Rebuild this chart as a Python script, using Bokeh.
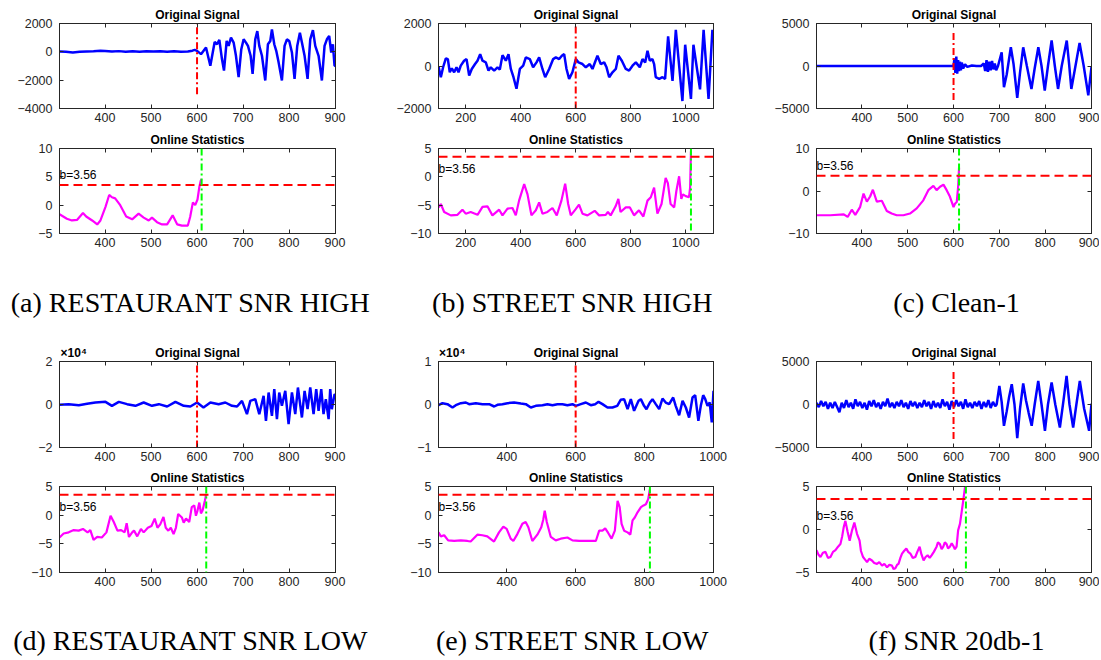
from bokeh.plotting import figure
from bokeh.layouts import row, column
from bokeh.models import Range1d, FixedTicker, LinearAxis, Span, Label
from bokeh.embed import file_html
from bokeh.resources import INLINE

# ---------------- shared values ----------------
THRESH = 3.56
THRESH_TEXT = "b=3.56"
CHANGE_X = 600
EXP_TEXT = "\u00d710\u2074"

# ---------------- panel (a) ----------------
A_CAPTION = "(a) RESTAURANT SNR HIGH"
A_XRANGE = (301, 901)
A_XTICKS = [400, 500, 600, 700, 800, 900]
A_SIG_YRANGE = (-4000, 2000)
A_SIG_YTICKS = [-4000, -2000, 0, 2000]
A_SIG_X = [301, 315, 330, 345, 360, 375, 390, 400, 415, 430,
           445, 460, 475, 490, 505, 520, 535, 550, 565, 580,
           590, 595, 600,
           608.6, 619.5, 628.9, 638.3, 643.4, 648.5, 654.2, 658.6, 664.4, 668.7,
           673.8, 679.6, 684.6, 690.4, 696.2, 701.3, 706.4, 710.7, 716.5, 720.8,
           726.6, 731, 735.3, 741.1, 748.3, 754.1, 759.2, 762.8, 767.9, 772.2,
           777.3, 784.5, 790.3, 795.4, 800.5, 806.3, 812, 817.8, 823.6, 828,
           833.8, 840.3, 846.1, 851.9, 857, 864.2, 871.4, 877.2, 882.3, 887.3,
           891.7, 895.3, 898.9, 901]
A_SIG_Y = [20, 0, -50, 0, 20, 40, 80, 60, 20, 50,
           10, 40, 0, 40, 20, 40, 0, 40, 0, 20,
           80, 140, 70,
           -163, 302, -977, 698, 535, 837, -512, -1326, 768, 419,
           1000, 651, -279, -1791, 186, 884, 651, 419, -279, -1558,
           884, 1465, 419, -279, -2024, 535, 768, 1582, 535, 70,
           -744, -2024, 419, 884, 768, -47, -1907, 419, 1349, 651,
           -279, -1907, 884, 1535, 419, -279, -2024, 419, 884, 1116,
           -47, 535, -977, -1000]
A_CHANGE_Y = (-3000, 2000)
A_STAT_YRANGE = (-5, 10)
A_STAT_YTICKS = [-5, 0, 5, 10]
A_STAT_X = [301, 317, 328, 339, 352, 359, 372, 383, 390, 401,
            409, 415, 422, 433, 446, 459, 473, 484, 495, 502,
            513, 524, 535, 547, 557, 567, 580, 585, 591, 596,
            601, 605, 608, 610]
A_STAT_Y = [-1.6, -2.4, -2.7, -2.6, -1.4, -2.0, -2.7, -3.4, -2.7, -0.3,
            1.8, 1.4, 1.2, 0.0, -2.0, -2.5, -1.5, -2.2, -2.7, -2.2,
            -3.0, -3.4, -3.4, -1.8, -3.4, -3.6, -3.6, -2.1, 0.5, 0.0,
            1.0, 3.2, 4.3, 4.6]
A_DETECT_X = 610
A_LABEL_Y = 5.4

# ---------------- panel (b) ----------------
B_CAPTION = "(b) STREET SNR HIGH"
B_XRANGE = (101, 1101)
B_XTICKS = [200, 400, 600, 800, 1000]
B_SIG_YRANGE = (-2000, 2000)
B_SIG_YTICKS = [-2000, 0, 2000]
B_SIG_X = [101, 109.5, 118, 127.7, 135, 142, 149.5, 158, 166.5, 173.7,
           182, 194, 203, 212.5, 222, 234, 242.8, 252.5, 261, 273,
           282.8, 291, 303.4, 315.5, 324, 333.7, 345.8, 355.5, 364, 373.7,
           384.6, 396.8, 409, 418.6, 433, 445, 457.4, 467, 479, 488.9,
           503.4, 518, 527.7, 539.8, 549.5, 558, 566.5, 576, 588, 600.4,
           610, 624.6, 636.7, 651, 661, 670.7, 679, 691, 703.4, 712,
           721.6, 733.7, 745.8, 755.5, 767.7, 782, 794, 806.5, 818.6, 833,
           842.8, 852.5, 861, 869.5, 879, 885, 891, 903.4, 915.5, 925,
           936, 952, 964, 988, 998, 1019, 1028, 1052, 1065, 1083,
           1097, 1101]
B_SIG_Y = [-15, -527, -47, 357, 326, -295, -109, -295, -62, -295,
           15, 248, 326, -450, -140, 93, 248, 558, 248, 170,
           -217, -62, -217, -62, -170, 512, 248, 558, -140, -527,
           -1070, -140, 15, 403, 326, -62, 170, 403, -140, -527,
           -140, 326, 403, 326, 480, 558, -140, -605, -295, 326,
           170, 93, -62, 93, -140, 201, 480, 93, 170, -62,
           -527, -295, -140, 480, 248, -140, -217, 15, 170, -62,
           326, 170, 713, 248, 326, 93, -527, -605, -527, -605,
           1400, -700, 1700, -1650, 1000, -1550, 1000, -1100, 1700, -1550,
           1700, 1100]
B_CHANGE_Y = (-2000, 2000)
B_STAT_YRANGE = (-10, 5)
B_STAT_YTICKS = [-10, -5, 0, 5]
B_STAT_X = [101, 109.5, 121.6, 145.8, 170, 188, 200, 218, 243, 261,
            279, 297, 321.6, 333.7, 351.9, 370, 382, 394, 412.6, 424.7,
            439, 455, 467, 479, 497, 515.4, 531, 548, 561.6, 572.5,
            582, 600, 612, 624.6, 642.7, 669, 685, 709, 717, 727,
            745, 755, 763, 782, 797, 812, 830, 846, 861, 873,
            885, 897, 912, 927, 935, 945, 958, 966, 976, 984,
            990, 1000, 1012, 1016, 1019]
B_STAT_Y = [-5.4, -4.8, -6.2, -6.8, -6.7, -5.8, -6.5, -6.2, -6.7, -5.3,
            -5.2, -6.8, -5.8, -6.8, -5.6, -5.5, -6.8, -4.2, -1.3, -3.1,
            -6.8, -5.9, -4.5, -6.5, -6.2, -5.5, -6.8, -4.2, -1.2, -4.8,
            -6.8, -5.7, -4.9, -6.5, -6.8, -6.0, -6.8, -6.7, -6.2, -6.8,
            -5.2, -3.9, -6.2, -5.4, -5.4, -6.8, -5.9, -7.0, -4.2, -3.6,
            -1.9, -6.5, -4.8, -0.2, -1.1, -4.8, -5.4, -2.5, 0.1, -3.9,
            -3.1, -3.4, -3.6, -1.9, 4.5]
B_DETECT_X = 1019
B_LABEL_Y = 1.3

# ---------------- panel (c) ----------------
C_CAPTION = "(c) Clean-1"
C_XRANGE = (301, 901)
C_XTICKS = [400, 500, 600, 700, 800, 900]
C_SIG_YRANGE = (-5000, 5000)
C_SIG_YTICKS = [-5000, 0, 5000]
C_SIG_X = [301, 600, 602, 604, 606, 608, 610, 612, 614, 616,
           618, 621, 625, 630, 640, 650, 660, 666, 669, 672,
           675, 678, 681, 684, 687, 690, 693, 697, 705, 710,
           716, 725, 731, 739, 745, 752, 760, 770, 777, 785,
           792, 799, 806, 814, 821, 828, 836, 847, 852, 857,
           866, 875, 884, 894, 901]
C_SIG_Y = [0, 0, 900, -800, 1100, -900, 700, -600, 500, -500,
           400, -300, 200, -100, 50, 0, 0, 300, -600, 700,
           -700, 500, -500, 600, -400, 300, -500, 0, 1600, -2500,
           -1000, 2200, 200, -3750, -800, 2200, 0, -2700, -300, 2200,
           0, -2900, 0, 3000, 0, -2700, 0, 3000, 300, -2700,
           0, 2700, 0, -3450, -100]
C_CHANGE_Y = (-4000, 4000)
C_STAT_YRANGE = (-10, 10)
C_STAT_YTICKS = [-10, 0, 10]
C_STAT_X = [301, 331, 360.5, 369, 378, 385.6, 396, 403.6, 410.9, 418,
            424, 432.6, 443.5, 454.4, 465, 476, 490.6, 505, 519.6, 534,
            545, 556, 563, 570.6, 578, 585, 592, 600, 603, 607,
            610, 611.5, 612]
C_STAT_Y = [-5.7, -5.7, -5.5, -6.1, -4.4, -5.6, -3.8, -0.6, -2.5, -1.3,
            0.3, -2.5, -2.3, -4.7, -5.3, -5.7, -5.7, -5.3, -4.1, -2.2,
            0.2, 1.2, 0.2, 1.0, 1.5, 0.2, -1.3, -3.8, -3.0, -2.6,
            1.0, 4.1, 5.5]
C_DETECT_X = 612
C_LABEL_Y = 5.9

# ---------------- panel (d) ----------------
D_CAPTION = "(d) RESTAURANT SNR LOW"
D_XRANGE = (301, 901)
D_XTICKS = [400, 500, 600, 700, 800, 900]
D_SIG_SCALE = 1e4
D_EXP_X = 332
D_SIG_YRANGE = (-2, 2)
D_SIG_YTICKS = [-2, 0, 2]
D_SIG_X = [301, 321, 343, 361, 379, 401, 415, 430, 448, 466,
           484, 502, 517, 535, 553, 571, 585.5, 600, 614, 629,
           647, 661.5, 676, 687, 697.7, 708.5, 715.8, 726.6, 735.3, 744.7,
           749.8, 755.6, 762.8, 767.9, 773.7, 778.7, 784.5, 791.8, 799, 806.3,
           813.5, 819.3, 828, 833.8, 840.3, 846.1, 853.3, 859.1, 864.2, 870,
           875, 880, 886, 889.5, 893, 899, 901]
D_SIG_Y = [-155, 155, -310, 310, 930, 1240, -620, 1240, 155, -620,
           930, -620, 155, -930, 1240, -620, -930, 930, -1395, 930,
           155, 930, -620, -930, 1705, -4495, 1705, 2480, -4495, 4030,
           -7595, 5580, -5270, 7130, -6820, 5580, -620, 6355, -9145, 5580,
           -4495, 7905, -6045, 6355, -2170, 7905, -4495, 7130, -2945, 7130,
           -4495, 2480, -6820, 7130, -2170, 4805, 4500]
D_CHANGE_Y = (-2, 2)
D_STAT_YRANGE = (-10, 5)
D_STAT_YTICKS = [-10, -5, 0, 5]
D_STAT_X = [301, 310, 321, 332, 342.6, 352, 362, 368, 375, 383,
            393, 403, 412, 419, 427, 435, 442.6, 447, 452, 459,
            463, 470, 478, 484, 493, 501, 508, 514, 520, 527,
            532, 537.6, 543, 549, 554, 559, 567, 571, 576, 583,
            588.5, 594, 597.6, 601, 605, 608.5, 612, 617, 620]
D_STAT_Y = [-3.9, -3.2, -3.0, -2.6, -2.7, -2.4, -3.0, -2.6, -4.3, -3.8,
            -3.9, -3.0, -0.1, -1.2, -2.7, -2.6, -3.0, -1.4, -3.8, -3.0,
            -2.7, -3.7, -2.4, -3.0, -2.2, -1.9, -0.6, -2.2, -1.6, -0.3,
            -2.2, -2.7, -2.2, -3.3, -2.2, 0.2, -0.4, -1.3, -0.6, -1.2,
            1.4, 1.7, -0.1, 0.8, 2.2, 0.3, 0.8, 2.5, 3.7]
D_DETECT_X = 620
D_LABEL_Y = 1.5

# ---------------- panel (e) ----------------
E_CAPTION = "(e) STREET SNR LOW"
E_XRANGE = (201, 1001)
E_XTICKS = [400, 600, 800, 1000]
E_SIG_SCALE = 1e4
E_EXP_X = 241
E_SIG_YRANGE = (-1, 1)
E_SIG_YTICKS = [-1, 0, 1]
E_SIG_X = [201, 212.6, 227, 241.7, 251.4, 266, 280.5, 290, 309.6, 329,
           348.4, 363, 372.6, 387, 401.7, 421, 440.5, 455, 469.6, 484,
           503.5, 518, 532.6, 547, 561.7, 576, 590.8, 600.5, 615, 629.6,
           644, 656.7, 666.5, 678, 692.6, 707, 721,
           731, 741, 751, 760.5, 770, 783, 789.6, 799, 806, 816,
           823.5, 833, 843, 852.6, 862, 872, 883.7, 891, 901, 911,
           920.5, 930, 940, 947.7, 957, 964, 971, 977, 983.5, 990,
           996, 1001]
E_SIG_Y = [-155, 310, 78, -698, -155, 310, 465, 78, 310, 78,
           78, -465, -78, 78, 310, 465, 232, 78, -698, -310,
           -155, 78, -155, 78, 78, -155, 78, -310, 78, 465,
           -155, 78, 620, 78, -698, -698, -310,
           1085, 1240, -1085, 1240, -1472, 852, 1240, -310, -1085, 465,
           1240, 78, -1085, 1395, 465, 78, 1628, -310, -2500, 852,
           -698, -3022, 1628, 2170, -3798, -310, 2170, 1240, -310, 465,
           -4185, 3178]
E_CHANGE_Y = (-1, 1)
E_STAT_YRANGE = (-10, 5)
E_STAT_YTICKS = [-10, -5, 0, 5]
E_STAT_X = [201, 207.8, 217.5, 229, 246.5, 266, 285, 294.6, 314, 328.6,
            343, 362.5, 377, 389.6, 399.3, 411, 418.7, 430.4, 445, 454.6,
            462.4, 474, 488.6, 500, 506, 510, 516, 527.7, 542, 556.6,
            576, 590.8, 610, 634.5, 658.7, 668.5, 678, 686, 694.6, 704.4,
            714, 722, 728, 733.6, 741, 751, 759, 765.5, 772, 780,
            790, 797.5, 804.4, 811, 815, 816]
E_STAT_Y = [-3.0, -3.7, -3.5, -4.4, -4.5, -4.4, -4.5, -4.6, -3.4, -3.5,
            -3.7, -4.6, -3.0, -2.0, -2.4, -4.1, -4.5, -3.3, -1.5, -1.2,
            -2.1, -4.5, -3.4, -2.1, -0.7, 0.8, -1.2, -3.8, -4.4, -4.1,
            -3.9, -4.4, -4.5, -4.5, -4.5, -2.7, -2.7, -2.3, -3.1, -4.1,
            -2.7, 2.5, 1.4, -1.5, -2.7, -3.0, -3.4, -0.9, -0.4, 0.5,
            1.4, 1.7, 1.9, 2.8, 4.2, 4.5]
E_DETECT_X = 816
E_LABEL_Y = 1.5

# ---------------- panel (f) ----------------
F_CAPTION = "(f) SNR 20db-1"
F_XRANGE = (301, 901)
F_XTICKS = [400, 500, 600, 700, 800, 900]
F_SIG_YRANGE = (-5000, 5000)
F_SIG_YTICKS = [-5000, 0, 5000]
F_SIG_X = [301, 306, 311, 316, 321, 326, 331, 336, 341, 346,
           351, 356, 361, 366, 371, 376, 381, 386, 391, 396,
           401, 406, 411, 416, 421, 426, 431, 436, 441, 446,
           451, 456, 461, 466, 471, 476, 481, 486, 491, 496,
           501, 506, 511, 516, 521, 526, 531, 536, 541, 546,
           551, 556, 561, 566, 571, 576, 581, 586, 591, 596,
           601, 606, 611, 616, 621, 626, 631, 636, 641, 646,
           651, 656, 661, 666, 671, 676, 681, 686, 691,
           694, 700, 705, 710, 716, 721, 727, 733, 739, 745,
           752, 758, 764, 770.5, 777, 784.8, 792, 799.4, 806, 814,
           822, 832, 840, 846.6, 853, 861, 868, 875.5, 885, 895.8,
           901]
F_SIG_Y = [200, -300, 400, -200, 300, -500, 200, -400, 300, -300,
           -900, 200, -400, 500, -300, 200, -500, 600, -200, 300,
           -400, 200, -600, 400, -200, 500, -300, 200, -500, 300,
           -200, 700, -300, 200, -400, 300, -200, 500, -300, 200,
           -500, 400, -200, 300, -400, 200, -300, 500, -200, 300,
           -500, 400, -300, 200, -400, 600, -200, 300, -600, 400,
           -300, 500, -200, 300, -500, 600, -300, 200, -400, 300,
           -200, 400, -500, 300, -300, 500, -400, 300, -200,
           0, 2170, 300, -2480, -800, 800, 2360, 0, -3915, -500,
           2440, 500, -1000, -2480, 0, 2750, 0, -3060, 0, 2560,
           0, -2670, 500, 3333, 0, -2670, 0, 2750, -500, -3060,
           100]
F_CHANGE_Y = (-4000, 4000)
F_STAT_YRANGE = (-5, 5)
F_STAT_YTICKS = [-5, 0, 5]
F_STAT_X = [301, 305, 309.7, 315, 320.6, 326, 331.5, 337, 342.4, 348,
            353.2, 357, 360.5, 364, 369, 373.4, 378.5, 383.6, 389.4, 395,
            398, 402.6, 407, 411.3, 416, 422, 427, 433, 438, 444,
            449, 455, 460, 465.7, 469, 473, 477, 480, 484, 487.6,
            492, 497, 501, 505.7, 511, 516.6, 521, 526, 530, 534.7,
            539, 543.4, 548, 552, 557, 563, 566, 570.3, 574, 577.6,
            581, 584.8, 588, 592, 596, 599.4, 603, 606.6, 610, 614,
            617.6, 621, 625, 627]
F_STAT_Y = [-2.4, -2.9, -3.2, -2.7, -2.6, -3.3, -3.2, -2.6, -2.4, -2.0,
            -1.7, -0.8, 0.3, 1.0, -0.3, -1.3, -0.1, 0.8, -0.5, -1.3,
            -2.5, -3.2, -3.5, -3.8, -3.4, -3.6, -3.9, -4.0, -3.8, -4.2,
            -4.0, -4.4, -4.1, -4.2, -4.6, -4.5, -4.1, -4.0, -3.3, -2.8,
            -2.5, -2.2, -2.6, -2.8, -3.3, -3.2, -2.6, -2.0, -2.9, -3.6,
            -3.2, -3.0, -3.3, -3.0, -2.6, -2.0, -1.5, -1.7, -2.3, -2.0,
            -1.5, -1.7, -2.2, -2.0, -1.6, -1.9, -2.3, -2.0, -0.1, 0.65,
            2.0, 3.3, 4.9, 5.0]
F_DETECT_X = 627
F_LABEL_Y = 1.6

# ---------------- styling ----------------
BLUE = "#0000FF"
MAGENTA = "#FF00FF"
RED = "#FF0000"
GREEN = "#00FF00"
AXC = "#262626"
SANS = "Liberation Sans"
SERIF = "Liberation Serif"
DASH = "9 5"
DASHDOT = "7 3 2 3"
TICK_FONT = "12.5px"

COL_W = [386, 379, 334]
COL_BL = [59, 52, 51]
COL_BR = [51, 52, 8]
# (height, border_top, border_bottom)
ROW1_TOP = (128, 23, 20)
ROW1_BOT = (127, 20, 22)
ROW2_TOP = (141, 36, 19)
ROW2_BOT = (126, 20, 20)
CAP1_H = 70
CAP2_H = 66
PAGE_W = sum(COL_W)


def base_fig(col, geom, xr, yr, xticks, yticks, title, exp_x=None):
    h, bt, bb = geom
    w, bl, br = COL_W[col], COL_BL[col], COL_BR[col]
    p = figure(width=w, height=h, x_range=Range1d(*xr), y_range=Range1d(*yr),
               output_backend="svg", toolbar_location=None, tools="",
               min_border_left=bl, min_border_right=br,
               min_border_top=bt, min_border_bottom=bb,
               background_fill_color="white", border_fill_color="white")
    p.xgrid.visible = False
    p.ygrid.visible = False
    p.outline_line_color = AXC
    p.outline_line_width = 1
    p.xaxis.ticker = FixedTicker(ticks=xticks)
    p.yaxis.ticker = FixedTicker(ticks=yticks)
    for ax in list(p.xaxis) + list(p.yaxis):
        ax.axis_line_color = AXC
        ax.major_tick_line_color = AXC
        ax.major_tick_in = 4
        ax.major_tick_out = 0
        ax.minor_tick_line_color = None
        ax.major_label_text_font = SANS
        ax.major_label_text_font_size = TICK_FONT
        ax.major_label_text_color = AXC
    p.xaxis.major_label_standoff = 4
    p.yaxis.major_label_standoff = 7
    # box ticks on the top and right sides
    for loc, ticks in (("above", xticks), ("right", yticks)):
        ax = LinearAxis(ticker=FixedTicker(ticks=ticks),
                        major_label_text_font_size="1px",
                        major_label_text_color=None,
                        major_label_standoff=0,
                        major_tick_in=4, major_tick_out=0,
                        minor_tick_line_color=None,
                        axis_line_color=AXC, major_tick_line_color=AXC)
        p.add_layout(ax, loc)
    # panel title (and the x10^4 exponent) on one line above the box
    center = (xr[0] + xr[1]) / 2
    title_ticks = [center]
    overrides = {center: title}
    if exp_x is not None:
        title_ticks = [exp_x, center]
        overrides[exp_x] = EXP_TEXT
    title_ax = LinearAxis(ticker=FixedTicker(ticks=title_ticks),
                          major_label_overrides=overrides,
                          major_label_text_font=SANS,
                          major_label_text_font_style="bold",
                          major_label_text_font_size="12px",
                          major_label_text_color="black",
                          major_label_standoff=2,
                          major_tick_in=0, major_tick_out=0,
                          major_tick_line_color=None,
                          minor_tick_line_color=None,
                          axis_line_color=None)
    p.add_layout(title_ax, "above")
    return p


def sig_fig(col, geom, xr, yr, xticks, yticks, xs, ys, change_y, scale=None, exp_x=None):
    p = base_fig(col, geom, xr, yr, xticks, yticks, "Original Signal", exp_x)
    yv = ys if scale is None else [v / scale for v in ys]
    p.line(xs, yv, line_color=BLUE, line_width=2.5)
    p.line([CHANGE_X, CHANGE_X], list(change_y), line_color=RED,
           line_width=2, line_dash=DASHDOT)
    return p


def stat_fig(col, geom, xr, yr, xticks, yticks, xs, ys, det_x, label_y):
    p = base_fig(col, geom, xr, yr, xticks, yticks, "Online Statistics")
    p.line(xs, ys, line_color=MAGENTA, line_width=2.2)
    p.add_layout(Span(location=THRESH, dimension="width", line_color=RED,
                      line_width=2, line_dash=DASH))
    p.add_layout(Span(location=det_x, dimension="height", line_color=GREEN,
                      line_width=2, line_dash=DASHDOT))
    p.add_layout(Label(x=xr[0], y=label_y, text=THRESH_TEXT, text_align="left",
                       text_baseline="middle", text_font=SANS,
                       text_font_size="12px", text_color="black"))
    return p


def caption_fig(h, texts, centers, yc):
    p = figure(width=PAGE_W, height=h, x_range=Range1d(0, PAGE_W),
               y_range=Range1d(0, h), output_backend="svg",
               toolbar_location=None, tools="", min_border=0,
               x_axis_location=None, y_axis_location=None,
               background_fill_color="white", border_fill_color="white")
    p.outline_line_color = None
    p.xgrid.visible = False
    p.ygrid.visible = False
    for t, c in zip(texts, centers):
        p.add_layout(Label(x=c, y=yc, x_units="screen", y_units="screen",
                           text=t, text_align="center", text_baseline="middle",
                           text_font=SERIF, text_font_size="28px",
                           text_color="black"))
    return p


a1 = sig_fig(0, ROW1_TOP, A_XRANGE, A_SIG_YRANGE, A_XTICKS, A_SIG_YTICKS, A_SIG_X, A_SIG_Y, A_CHANGE_Y)
a2 = stat_fig(0, ROW1_BOT, A_XRANGE, A_STAT_YRANGE, A_XTICKS, A_STAT_YTICKS, A_STAT_X, A_STAT_Y, A_DETECT_X, A_LABEL_Y)
b1 = sig_fig(1, ROW1_TOP, B_XRANGE, B_SIG_YRANGE, B_XTICKS, B_SIG_YTICKS, B_SIG_X, B_SIG_Y, B_CHANGE_Y)
b2 = stat_fig(1, ROW1_BOT, B_XRANGE, B_STAT_YRANGE, B_XTICKS, B_STAT_YTICKS, B_STAT_X, B_STAT_Y, B_DETECT_X, B_LABEL_Y)
c1 = sig_fig(2, ROW1_TOP, C_XRANGE, C_SIG_YRANGE, C_XTICKS, C_SIG_YTICKS, C_SIG_X, C_SIG_Y, C_CHANGE_Y)
c2 = stat_fig(2, ROW1_BOT, C_XRANGE, C_STAT_YRANGE, C_XTICKS, C_STAT_YTICKS, C_STAT_X, C_STAT_Y, C_DETECT_X, C_LABEL_Y)

d1 = sig_fig(0, ROW2_TOP, D_XRANGE, D_SIG_YRANGE, D_XTICKS, D_SIG_YTICKS, D_SIG_X, D_SIG_Y, D_CHANGE_Y, D_SIG_SCALE, D_EXP_X)
d2 = stat_fig(0, ROW2_BOT, D_XRANGE, D_STAT_YRANGE, D_XTICKS, D_STAT_YTICKS, D_STAT_X, D_STAT_Y, D_DETECT_X, D_LABEL_Y)
e1 = sig_fig(1, ROW2_TOP, E_XRANGE, E_SIG_YRANGE, E_XTICKS, E_SIG_YTICKS, E_SIG_X, E_SIG_Y, E_CHANGE_Y, E_SIG_SCALE, E_EXP_X)
e2 = stat_fig(1, ROW2_BOT, E_XRANGE, E_STAT_YRANGE, E_XTICKS, E_STAT_YTICKS, E_STAT_X, E_STAT_Y, E_DETECT_X, E_LABEL_Y)
f1 = sig_fig(2, ROW2_TOP, F_XRANGE, F_SIG_YRANGE, F_XTICKS, F_SIG_YTICKS, F_SIG_X, F_SIG_Y, F_CHANGE_Y)
f2 = stat_fig(2, ROW2_BOT, F_XRANGE, F_STAT_YRANGE, F_XTICKS, F_STAT_YTICKS, F_STAT_X, F_STAT_Y, F_DETECT_X, F_LABEL_Y)

CAP_CENTERS = [190, 572, 956]
cap1 = caption_fig(CAP1_H, [A_CAPTION, B_CAPTION, C_CAPTION], CAP_CENTERS, 23)
cap2 = caption_fig(CAP2_H, [D_CAPTION, E_CAPTION, F_CAPTION], CAP_CENTERS, 18)

layout = column(
    row(column(a1, a2), column(b1, b2), column(c1, c2)),
    cap1,
    row(column(d1, d2), column(e1, e2), column(f1, f2)),
    cap2,
)

open("out.html", "w").write(file_html(layout, INLINE))
